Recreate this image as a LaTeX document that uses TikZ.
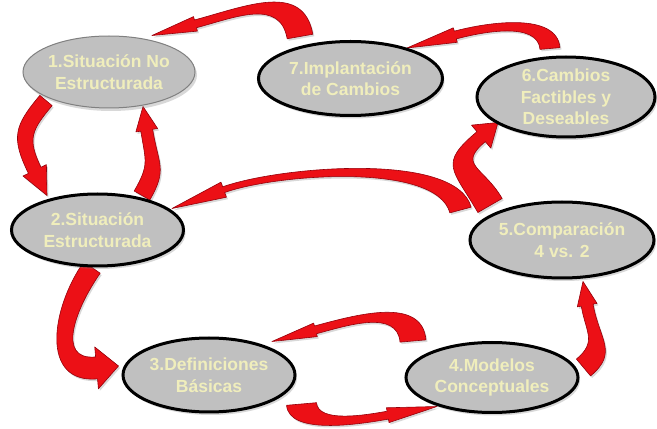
\documentclass[tikz,border=0pt]{standalone}
\usepackage{fontspec}
\setmainfont{Liberation Sans}
\usetikzlibrary{shapes.geometric,calc,shadows}
\pgfdeclarelayer{bg}
\pgfsetlayers{bg,main}
\definecolor{ellfill}{RGB}{192,192,192}
\definecolor{ellgray}{RGB}{128,128,128}
\definecolor{txtyel}{RGB}{240,238,188}
\definecolor{arrred}{RGB}{236,16,22}
\definecolor{arredge}{RGB}{150,0,10}
\tikzset{
  stage/.style={ellipse, fill=ellfill, draw=black, line width=3pt, inner sep=-6pt,
    text=txtyel, align=center, font=\fontsize{17.5}{21.5}\selectfont\bfseries,
    drop shadow={opacity=0.3,shadow xshift=2pt,shadow yshift=-3pt}},
  stagelight/.style={stage, draw=ellgray, line width=1pt},
  redarrow/.style={fill=arrred, draw=arredge, line width=0.6pt, line join=round,
    drop shadow={opacity=0.3,shadow xshift=1.5pt,shadow yshift=-2pt}}
}
% #1 to-options, #2 start, #3 tip, #4 out, #5 in, #6 tail w, #7 neck w, #8 head w, #9 head length
\newcommand\rarrow[9][]{%
  \path #2 coordinate (rA);
  \path #3 coordinate (rT);
  \path ($(rT)+({#5}:{#9})$) coordinate (rB);
  \filldraw[redarrow] ($(rA)+({#4+90}:{#6/2})$) to[out=#4,in=#5,#1]
    ($(rB)+({#5-90}:{#7/2})$) -- ($(rB)+({#5-90}:{#8/2})$) -- (rT)
    -- ($(rB)+({#5+90}:{#8/2})$) -- ($(rB)+({#5+90}:{#7/2})$)
    to[out=#5,in=#4,#1] ($(rA)+({#4-90}:{#6/2})$) -- cycle;
}
\begin{document}
\begin{tikzpicture}[x=1pt,y=1pt]
\useasboundingbox (0,0) rectangle (657,429);

\node[stagelight, minimum width=172pt, minimum height=72pt] (n1) at (109,357) {1.Situación No\\Estructurada};
\node[stage, minimum width=184pt, minimum height=74pt] (n7) at (350.5,350.5) {7.Implantación\\de Cambios};
\node[stage, minimum width=178pt, minimum height=80pt] (n6) at (566,332) {6.Cambios\\Factibles y\\Deseables};
\node[stage, minimum width=172pt, minimum height=72pt] (n2) at (97.5,199) {2.Situación\\Estructurada};
\node[stage, minimum width=184pt, minimum height=76pt] (n5) at (562,189) {5.Comparación\\4 vs. 2};
\node[stage, minimum width=172pt, minimum height=74pt] (n3) at (209,54) {3.Definiciones\\Básicas};
\node[stage, minimum width=172pt, minimum height=70pt] (n4) at (492,51.5) {4.Modelos\\Conceptuales};

\begin{pgfonlayer}{bg}
\fill[white] (0,0) rectangle (657,429);
% 7 -> 1
\rarrow[looseness=1.15]{([shift={(-50.5,3.5)}]n7.north)}{([xshift=43pt]n1.north)}{100}{15}{26}{8}{15}{45}
% 6 -> 7
\rarrow[looseness=0.85]{([shift={(-16,7)}]n6.north)}{([shift={(56.5,-8)}]n7.north)}{95}{15}{20}{8}{15}{50}
% 5 -> 6
\rarrow[looseness=1.6]{([shift={(-72,-5)}]n5.north)}{([shift={(-68,16)}]n6.south)}{120}{220}{28}{13}{30}{22}
% 5 -> 2
\rarrow[looseness=0.6]{([shift={(-8,30)}]n5.west)}{([shift={(74.5,-16)}]n2.north)}{105}{20}{22}{6}{16}{55}
% 1 -> 2
\rarrow[looseness=1.3]{([shift={(-63,8)}]n1.south)}{([shift={(-50.5,-3)}]n2.north)}{230}{116}{16}{14}{26}{28}
% 2 -> 1
\rarrow[looseness=1.3]{([shift={(44.5,-3)}]n2.north)}{([shift={(34,2)}]n1.south)}{60}{279}{18}{12}{22}{24}
% 2 -> 3
\rarrow[looseness=1.25]{([xshift=-5.5pt]n2.south)}{([shift={(-3,9)}]n3.west)}{235}{185}{20}{22}{42}{22}
% 4 -> 3
\rarrow{([xshift=-79pt]n4.north)}{([shift={(63,-5)}]n3.north)}{95}{15}{26}{8}{14}{45}
% 3 -> 4
\rarrow[looseness=0.75]{([shift={(5,-29)}]n3.east)}{([shift={(-55,7.5)}]n4.south)}{275}{190}{30}{8}{15}{50}
% 4 -> 5
\rarrow[looseness=1.3]{([shift={(4,10)}]n4.east)}{([shift={(21,-2)}]n5.south)}{40}{280}{22}{12}{20}{24}
\end{pgfonlayer}
\end{tikzpicture}
\end{document}
